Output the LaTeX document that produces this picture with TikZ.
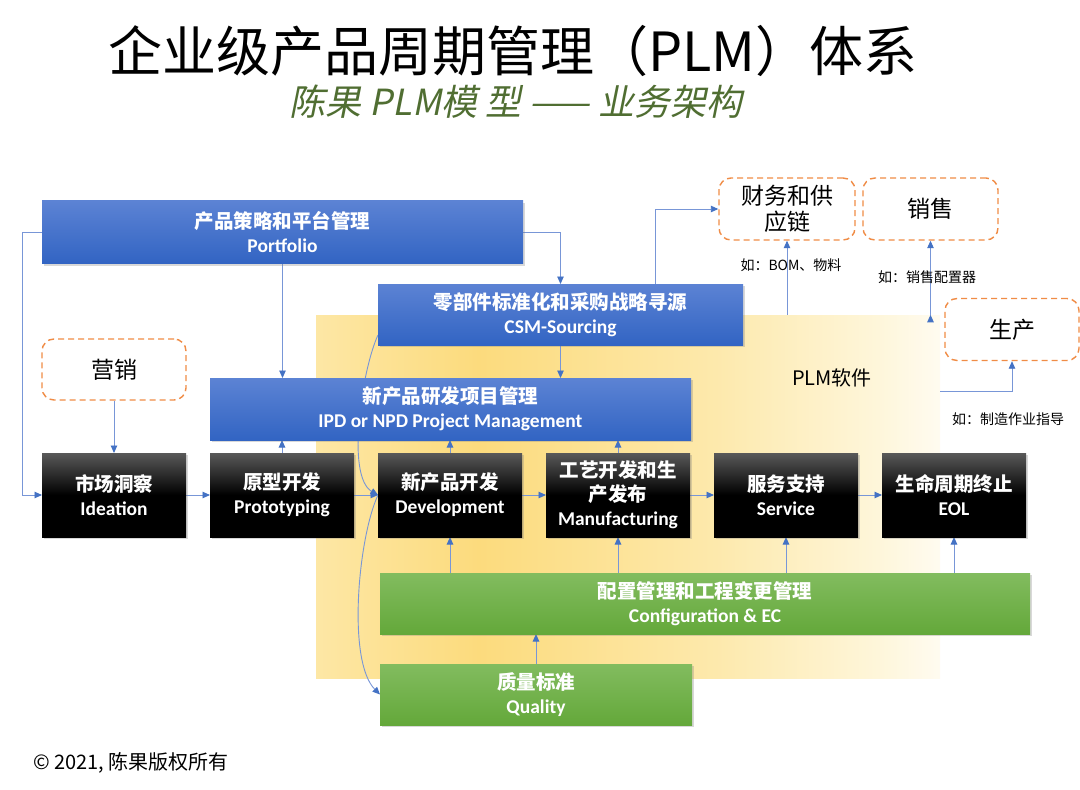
\documentclass[tikz,border=0pt]{standalone}
\usepackage{fontspec}
\setmainfont{Noto Sans CJK SC}
\newfontfamily\latfont{Carlito}
\newfontfamily\slantfont[FakeSlant=0.2]{Noto Sans CJK SC}
\usetikzlibrary{positioning,arrows.meta,shadows}

\definecolor{planTop}{RGB}{92,131,212}
\definecolor{planBot}{RGB}{50,100,195}
\definecolor{baseTop}{RGB}{130,188,95}
\definecolor{baseBot}{RGB}{100,168,58}
\definecolor{extLine}{RGB}{240,140,70}
\definecolor{linkLine}{RGB}{120,150,215}
\definecolor{linkTip}{RGB}{68,114,196}
\definecolor{subGreen}{RGB}{80,110,50}
\definecolor{glowA}{RGB}{253,231,165}
\definecolor{glowB}{RGB}{252,219,125}
\definecolor{glowC}{RGB}{253,233,172}
\definecolor{glowD}{RGB}{254,246,218}
\definecolor{glowE}{RGB}{255,251,240}
\pgfdeclarehorizontalshading{plmglow}{100bp}{color(0bp)=(glowA); color(25bp)=(glowA);
  color(38bp)=(glowB); color(57bp)=(glowC); color(70bp)=(glowD); color(75bp)=(glowE); color(100bp)=(glowE)}

\pgfdeclarelayer{back}
\pgfdeclarelayer{wires}
\pgfsetlayers{back,wires,main}

\begin{document}
\begin{tikzpicture}[x=1pt, y=-1pt, node distance=24pt,
    plan/.style={top color=planTop, bottom color=planBot, text=white, align=center,
      font=\bfseries\fontsize{19.5}{24}\selectfont, inner sep=0pt, outer sep=0pt,
      drop shadow={opacity=0.3, shadow xshift=1.5pt, shadow yshift=-2pt}},
    stage/.style={plan, top color=black!65, bottom color=black, middle color=black,
      minimum width=144pt, minimum height=84pt},
    base/.style={plan, top color=baseTop, bottom color=baseBot},
    ext/.style={draw=extLine, line width=1.4pt, dash pattern=on 6pt off 4pt, rounded corners=12pt,
      fill=white, align=center, font=\fontsize{23}{26}\selectfont, inner sep=0pt},
    hint/.style={font=\fontsize{14}{16}\selectfont, inner sep=0pt},
    glow/.style={shading=plmglow, minimum width=624pt, minimum height=363pt, inner sep=0pt},
    link/.style={draw=linkLine, line width=0.9pt, -{Triangle[length=7.5pt,width=6.5pt,color=linkTip]}}]

\useasboundingbox (0,0) rectangle (1080,790);
\begin{pgfonlayer}{back}
\fill[white] (0,0) rectangle (1080,790);
\node[glow] (PLM) at (628,496.5) {};
\end{pgfonlayer}

% titles
\node (Title) at (513,51) {\fontsize{54}{60}\selectfont 企业级产品周期管理（PLM）体系};
\node[text=subGreen] (Sub) at (516,102) {\slantfont\fontsize{36}{40}\selectfont 陈果 PLM模 型 —— 业务架构};
\node[font=\fontsize{20}{22}\selectfont] (PLMtext) at (832,378) {PLM软件};

% management layers
\node[plan, minimum width=481pt, minimum height=63pt] (Port) at (282.5,232) {产品策略和平台管理\\\latfont Portfolio};
\node[plan, minimum width=365pt, minimum height=61pt] (CSM) at (560.5,314.5) {零部件标准化和采购战略寻源\\\latfont CSM-Sourcing};
\node[plan, minimum width=481pt, minimum height=62pt] (IPD) at (450.5,409) {新产品研发项目管理\\\latfont IPD or NPD Project Management};

% life cycle stages
\node[stage] (Idea) at (114,495) {市场洞察\\\latfont Ideation};
\node[stage] (Proto) [right=of Idea] {原型开发\\\latfont Prototyping};
\node[stage] (Dev) [right=of Proto] {新产品开发\\\latfont Development};
\node[stage] (Manu) [right=of Dev] {工艺开发和生\\产发布\\\latfont Manufacturing};
\node[stage] (Serv) [right=of Manu] {服务支持\\\latfont Service};
\node[stage] (EOL) [right=of Serv] {生命周期终止\\\latfont EOL};

\node[base, minimum width=650pt, minimum height=61pt] (Conf) at (705,603.5) {配置管理和工程变更管理\\\latfont Configuration \& EC};
\node[base, minimum width=312pt, minimum height=61pt] (Qual) at (536,694.5) {质量标准\\\latfont Quality};

% outside systems
\node[ext, minimum width=144pt, minimum height=61pt] (Mark) at (114,369.5) {营销};
\node[ext, minimum width=136pt, minimum height=62pt] (Fin) at (787,209) {财务和供\\应链};
\node[ext, minimum width=135pt, minimum height=62pt] (Sale) at (930.5,209) {销售};
\node[ext, minimum width=134pt, minimum height=62pt] (Prod) at (1012,329.5) {生产};

\node[hint] (FinHint) at (791,265) {如：BOM、物料};
\node[hint] (SaleHint) at (927,277) {如：销售配置器};
\node[hint] (ProdHint) at (1008,419) {如：制造作业指导};

\node[font=\fontsize{20}{22}\selectfont, anchor=west, inner sep=0pt] (Copy) at (33,763) {© 2021, 陈果版权所有};

\begin{pgfonlayer}{wires}
\path[link]
    (Mark) edge (Idea)
    (Idea) edge (Proto)
    (Proto) edge (Dev)
    (Dev) edge (Manu)
    (Manu) edge (Serv)
    (Serv) edge (EOL)
    (Port.south) edge (Port.south |- IPD.north)
    (CSM.south) edge (CSM.south |- IPD.north)
    (Proto.north) edge (Proto.north |- IPD.south)
    (Dev.north) edge (Dev.north |- IPD.south)
    (Manu.north) edge (Manu.north |- IPD.south)
    (Conf.north -| Dev) edge (Dev.south)
    (Conf.north -| Manu) edge (Manu.south)
    (Conf.north -| Serv) edge (Serv.south)
    (Conf.north -| EOL) edge (EOL.south)
    (Qual.north) edge (Qual.north |- Conf.south)
    (PLM.north -| Fin) edge (Fin.south)
    (PLM.north -| Sale) edge (Sale.south);
\draw[link] (Port.west) -- ++(-20,0) |- (Idea.west);
\draw[link] (Port.east) -| (CSM.north);
\draw[link] ([xshift=94.5pt]CSM.north) |- (Fin.west);
\draw[link] ([yshift=105.5pt]PLM.east) -| (Prod.south);
\draw[link] ([yshift=10pt]CSM.south west) to[out=245, in=150, looseness=0.6] (Dev.west);
\draw[link] (Dev.west) to[out=245, in=135, looseness=0.6] (Qual.west);
\end{pgfonlayer}
\end{tikzpicture}
\end{document}
